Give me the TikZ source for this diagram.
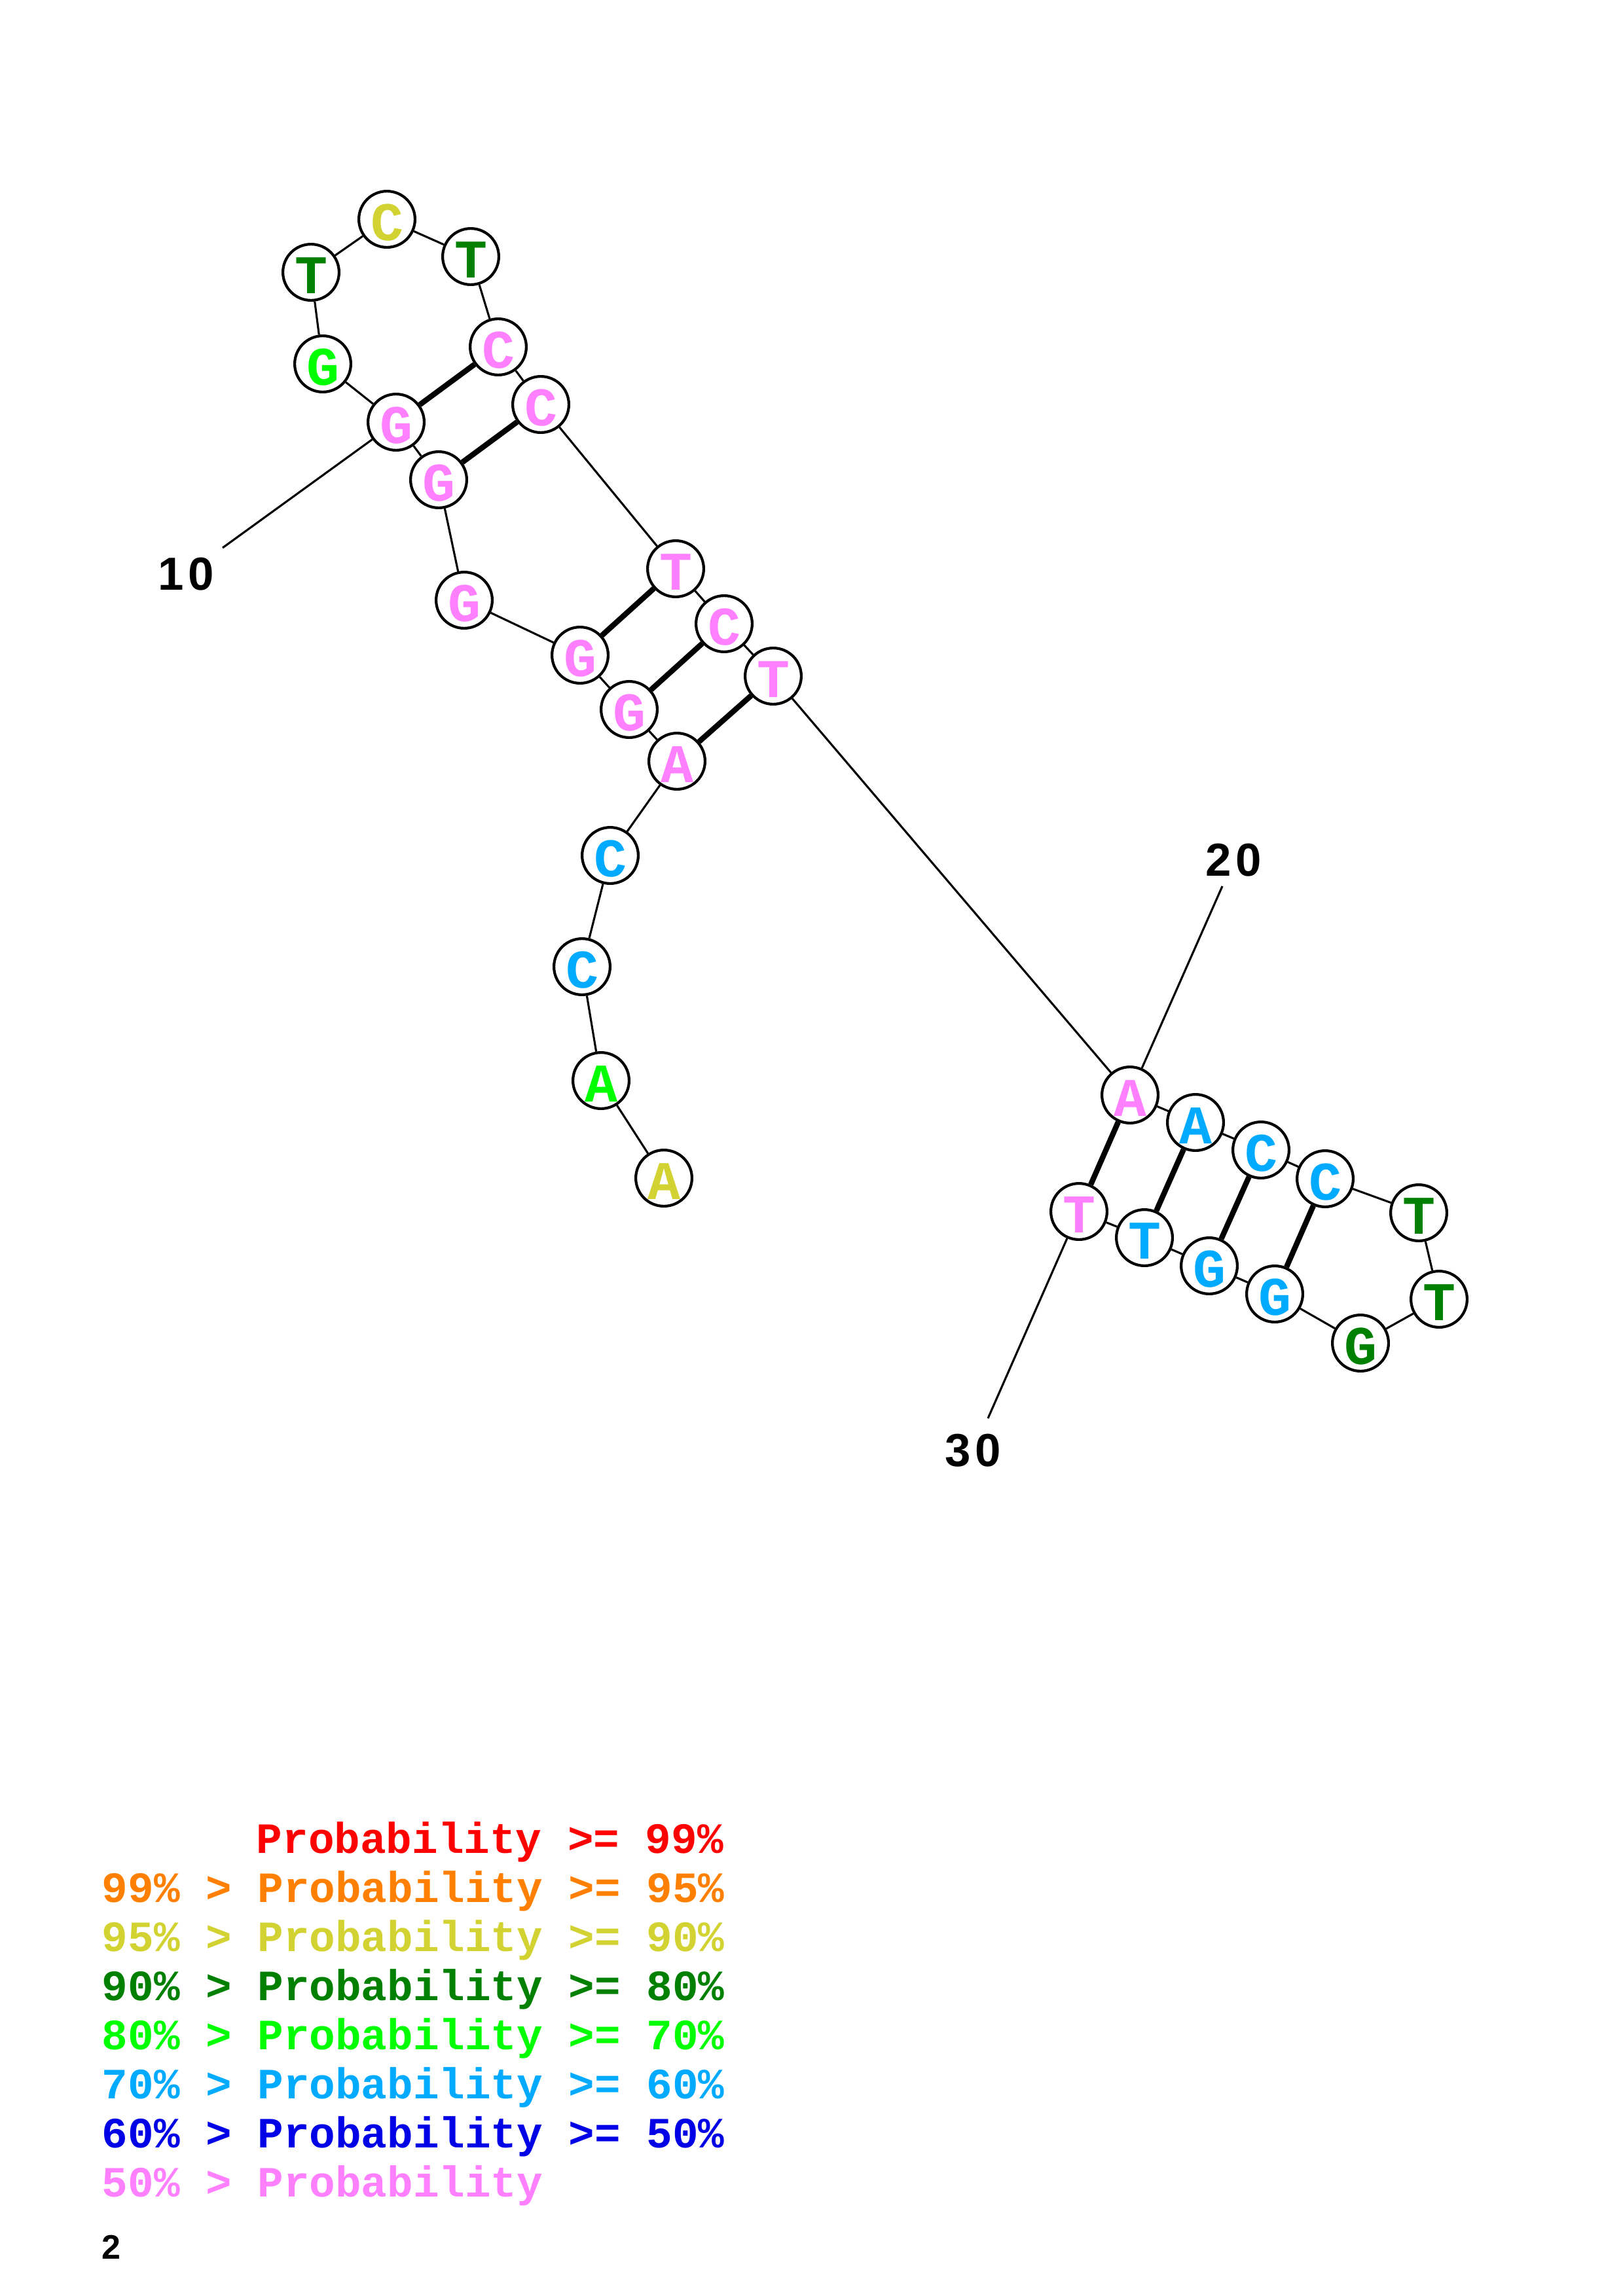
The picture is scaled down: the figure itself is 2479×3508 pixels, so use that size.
\documentclass[tikz,border=0pt]{standalone}
\usepackage{fontspec}
\setmainfont{Liberation Sans}
\setmonofont{Liberation Mono}
\definecolor{cpink}{RGB}{255,128,255}
\definecolor{csky}{RGB}{0,170,255}
\definecolor{cdgreen}{RGB}{0,128,0}
\definecolor{cgreen}{RGB}{0,255,0}
\definecolor{cyel}{RGB}{210,210,50}
\definecolor{corange}{RGB}{255,128,0}
\definecolor{cred}{RGB}{255,0,0}
\definecolor{cblue}{RGB}{0,0,230}
\tikzset{
  nt/.style={circle,draw,line width=1pt,fill=white,minimum size=20.6pt,inner sep=0pt,
    text height=15.4pt,text depth=0pt,
    font=\ttfamily\bfseries\fontsize{20}{20}\selectfont},
  bb/.style={line width=0.75pt},
  bond/.style={line width=2pt},
  num/.style={font=\bfseries\fontsize{17}{17}\selectfont,inner sep=0pt},
  leg/.style={anchor=base west,inner sep=0pt,font=\ttfamily\bfseries\fontsize{15.85}{16}\selectfont}
}
\begin{document}
\begin{tikzpicture}[x=0.24013pt,y=-0.24013pt]
\useasboundingbox (0,0) rectangle (2479,3508);
% nucleotides
\node[nt,text=cyel]    (n1)  at (1014,1800) {A};
\node[nt,text=cgreen]  (n2)  at (918,1651) {A};
\node[nt,text=csky]    (n3)  at (889,1477) {C};
\node[nt,text=csky]    (n4)  at (932,1307) {C};
\node[nt,text=cpink]   (n5)  at (1034,1163) {A};
\node[nt,text=cpink]   (n6)  at (961,1084) {G};
\node[nt,text=cpink]   (n7)  at (886,1001) {G};
\node[nt,text=cpink]   (n8)  at (709,917) {G};
\node[nt,text=cpink]   (n9)  at (670,733) {G};
\node[nt,text=cpink]   (n10) at (605,645) {G};
\node[nt,text=cgreen]  (n11) at (493,556) {G};
\node[nt,text=cdgreen] (n12) at (475,416) {T};
\node[nt,text=cyel]    (n13) at (591,335) {C};
\node[nt,text=cdgreen] (n14) at (719,392) {T};
\node[nt,text=cpink]   (n15) at (761,530) {C};
\node[nt,text=cpink]   (n16) at (826,618) {C};
\node[nt,text=cpink]   (n17) at (1032,869) {T};
\node[nt,text=cpink]   (n18) at (1106,953) {C};
\node[nt,text=cpink]   (n19) at (1181,1033) {T};
\node[nt,text=cpink]   (n20) at (1726,1673) {A};
\node[nt,text=csky]    (n21) at (1826,1715) {A};
\node[nt,text=csky]    (n22) at (1926,1757) {C};
\node[nt,text=csky]    (n23) at (2024,1801) {C};
\node[nt,text=cdgreen] (n24) at (2167,1853) {T};
\node[nt,text=cdgreen] (n25) at (2198,1985) {T};
\node[nt,text=cdgreen] (n26) at (2078,2052) {G};
\node[nt,text=csky]    (n27) at (1947,1977) {G};
\node[nt,text=csky]    (n28) at (1847,1934) {G};
\node[nt,text=csky]    (n29) at (1748,1891) {T};
\node[nt,text=cpink]   (n30) at (1648,1851) {T};
% backbone
\foreach \a/\b in {1/2,2/3,3/4,4/5,5/6,6/7,7/8,8/9,9/10,10/11,11/12,12/13,13/14,14/15,15/16,16/17,17/18,18/19,19/20,20/21,21/22,22/23,23/24,24/25,25/26,26/27,27/28,28/29,29/30}
  \draw[bb] (n\a) -- (n\b);
% base pairs
\foreach \a/\b in {5/19,6/18,7/17,9/16,10/15,20/30,21/29,22/28,23/27}
  \draw[bond] (n\a) -- (n\b);
% position labels
\coordinate (c10) at (340,837);
\coordinate (c20) at (1867,1354);
\coordinate (c30) at (1509,2167);
\draw[bb] (c10) -- (n10);
\draw[bb] (c20) -- (n20);
\draw[bb] (c30) -- (n30);
\node[num] (l10) at (284,877) {1\kern1.5pt0};
\node[num] (l20) at (1884,1314) {2\kern1.5pt0};
\node[num] (l30) at (1486,2216) {3\kern1.5pt0};
% legend
\node[leg,text=cred]    (g1) at (391,2831) {Probability >= 99\%};
\node[leg,text=corange] (g2) at (155,2906) {99\% > Probability >= 95\%};
\node[leg,text=cyel]    (g3) at (155,2981) {95\% > Probability >= 90\%};
\node[leg,text=cdgreen] (g4) at (155,3056) {90\% > Probability >= 80\%};
\node[leg,text=cgreen]  (g5) at (155,3131) {80\% > Probability >= 70\%};
\node[leg,text=csky]    (g6) at (155,3206) {70\% > Probability >= 60\%};
\node[leg,text=cblue]   (g7) at (155,3281) {60\% > Probability >= 50\%};
\node[leg,text=cpink]   (g8) at (155,3356) {50\% > Probability};
\node[anchor=base west,inner sep=0pt,font=\bfseries\fontsize{12.5}{13}\selectfont] (pg) at (155,3451) {2};
\end{tikzpicture}
\end{document}
